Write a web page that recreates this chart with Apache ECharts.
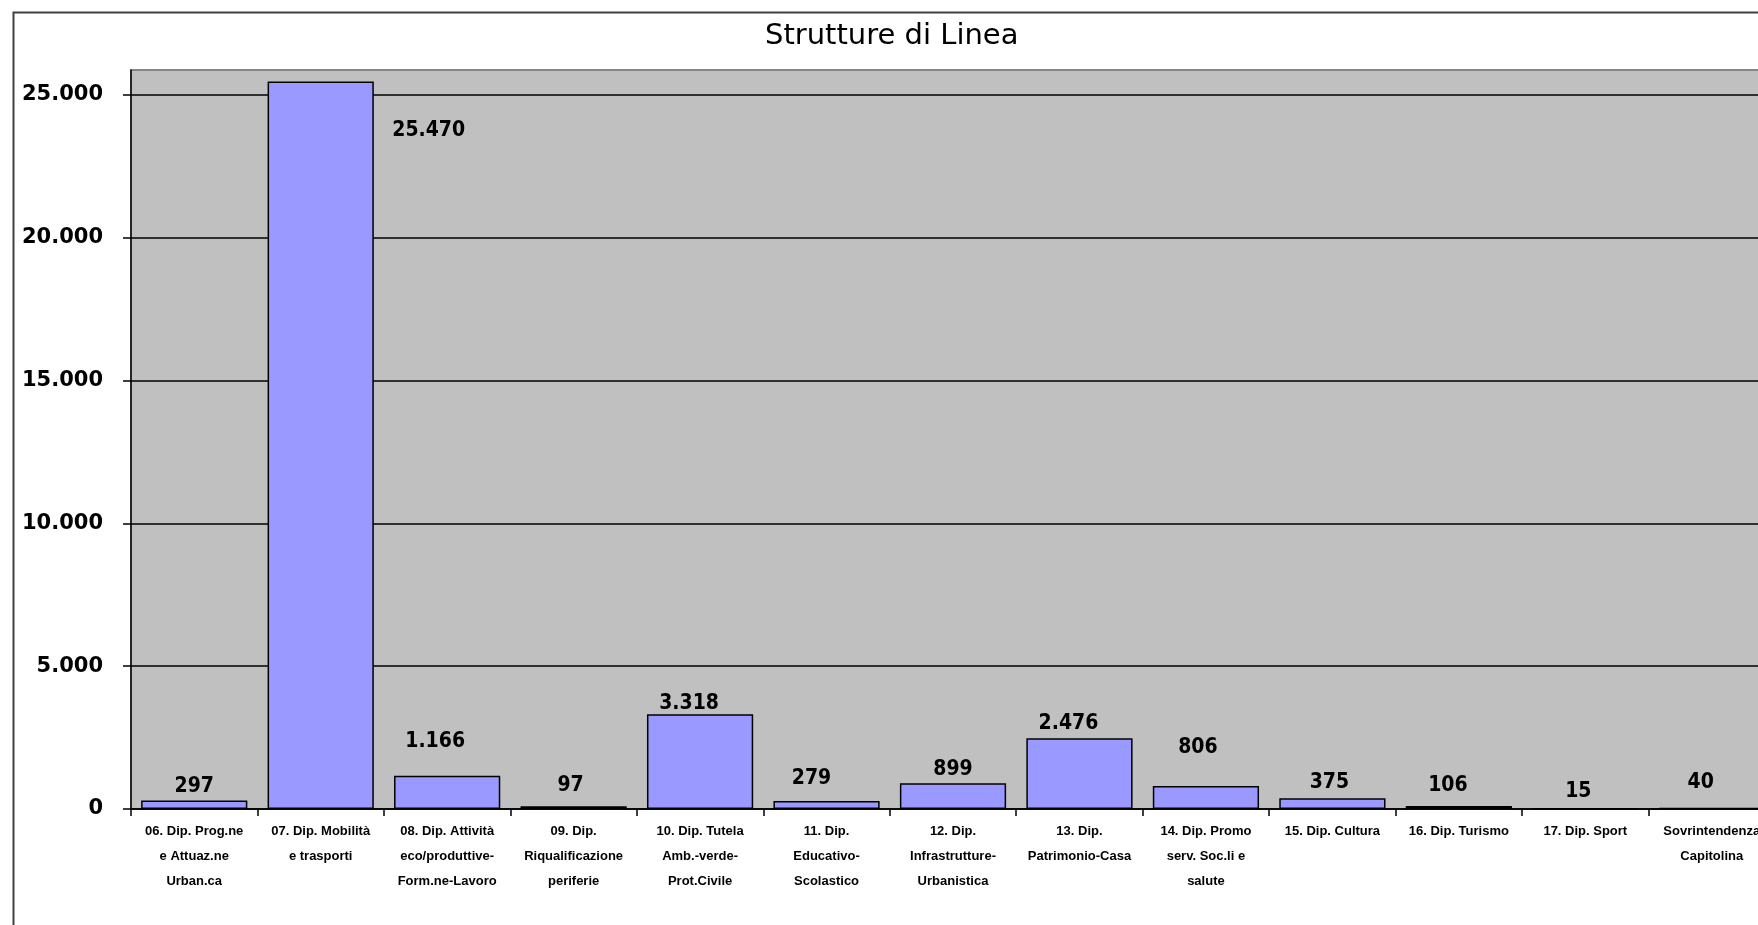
<!DOCTYPE html>
<html>
<head>
<meta charset="utf-8">
<script src="https://cdn.jsdelivr.net/npm/echarts@6/dist/echarts.min.js"></script>
<style>
html,body{margin:0;padding:0;background:#fff;overflow:hidden;width:1758px;height:925px;}
#c{width:1775px;height:925px;}
</style>
</head>
<body>
<div id="c"></div>
<script>
const titleText = 'Strutture di Linea';
const categories = [
  '06. Dip. Prog.ne\ne Attuaz.ne\nUrban.ca',
  '07. Dip. Mobilità\ne trasporti',
  '08. Dip. Attività\neco/produttive-\nForm.ne-Lavoro',
  '09. Dip.\nRiqualificazione\nperiferie',
  '10. Dip. Tutela\nAmb.-verde-\nProt.Civile',
  '11. Dip.\nEducativo-\nScolastico',
  '12. Dip.\nInfrastrutture-\nUrbanistica',
  '13. Dip.\nPatrimonio-Casa',
  '14. Dip. Promo\nserv. Soc.li e\nsalute',
  '15. Dip. Cultura',
  '16. Dip. Turismo',
  '17. Dip. Sport',
  'Sovrintendenza\nCapitolina'
];
const values = [297, 25470, 1166, 97, 3318, 279, 899, 2476, 806, 375, 106, 15, 40];
const yTicks = [0, 5000, 10000, 15000, 20000, 25000];
// label nudges (style only)
const labelOffsets = [[0,2],[108,65],[-12,-19],[-3,-5],[-11,5],[-15,-7],[0,2],[-11,1],[-8,-23],[-3,0],[-11,-5],[-7,-1],[-11,-10]];

function fmt(n){ return String(n).replace(/\B(?=(\d{3})+(?!\d))/g, '.'); }

const chart = echarts.init(document.getElementById('c'));
chart.setOption({
  backgroundColor: '#ffffff',
  animation: false,
  graphic: [{
    type: 'rect', left: 11, top: 10, z: -1,
    shape: {width: 1800, height: 1000},
    style: {fill: 'none', stroke: '#404040', lineWidth: 2}
  }],
  title: {
    text: titleText, left: 760, top: 17,
    textStyle: {fontFamily: 'DejaVu Sans', fontSize: 29, fontWeight: 'normal', color: '#000'}
  },
  grid: {
    left: 131, top: 70, right: 0, bottom: 116,
    show: true, backgroundColor: '#C0C0C0', borderColor: '#808080', borderWidth: 1.5
  },
  xAxis: {
    type: 'category', data: categories,
    axisLine: {lineStyle: {color: '#000', width: 1.5}},
    axisTick: {show: true, length: 7, alignWithLabel: false, lineStyle: {color: '#000', width: 1.5}},
    axisLabel: {
      interval: 0, margin: 10, color: '#000',
      fontFamily: 'Liberation Sans', fontSize: 13, fontWeight: 'bold', lineHeight: 25
    },
    splitLine: {show: false}
  },
  yAxis: {
    type: 'value', min: yTicks[0], max: 25870, interval: yTicks[1] - yTicks[0],
    axisLine: {show: true, lineStyle: {color: '#000', width: 1.5}},
    axisTick: {show: true, length: 8, lineStyle: {color: '#000', width: 1.5}},
    axisLabel: {
      color: '#000', fontFamily: 'DejaVu Sans', fontSize: 21, fontWeight: 'bold', margin: 28,
      showMaxLabel: false,
      formatter: v => yTicks.indexOf(v) >= 0 ? fmt(v) : ''
    },
    splitLine: {show: true, lineStyle: {color: ['#000','#000','#000','#000','#000','#000','#808080'], width: 1.5}}
  },
  series: [{
    type: 'bar',
    barCategoryGap: '16%',
    data: values.map((v, i) => ({value: v, label: {offset: labelOffsets[i]}})),
    itemStyle: {color: '#9999FF', borderColor: '#000', borderWidth: 1.5},
    label: {
      show: true, position: 'top', distance: 5, color: '#000',
      fontFamily: 'Liberation Sans Narrow, DejaVu Sans Condensed, Liberation Sans',
      fontSize: 21, fontWeight: 'bold',
      formatter: p => fmt(p.value)
    }
  }]
});
</script>
</body>
</html>
